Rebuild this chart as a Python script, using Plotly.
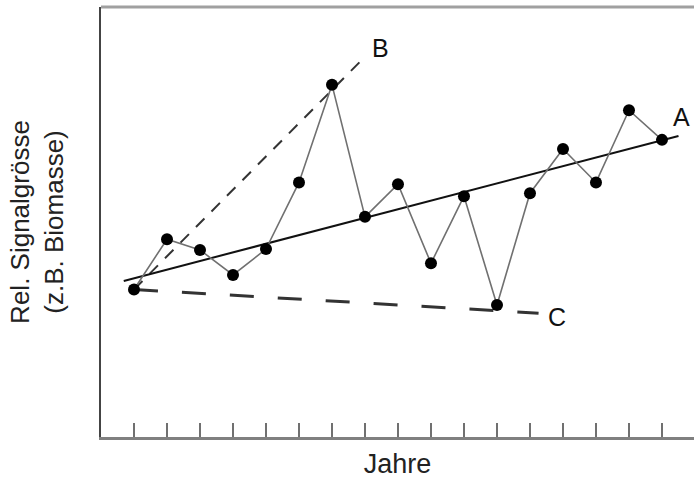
import plotly.graph_objects as go

years = list(range(1, 18))
signal = [34.3, 46.0, 43.5, 37.7, 43.7, 59.2, 81.9, 51.2, 58.8, 40.4, 56.0, 30.7, 56.7, 67.0, 59.2, 76.0, 69.1]

trend_a_x = [0.69, 17.5]
trend_a_y = [36.3, 70.0]
trend_b_x = [1, 7.93]
trend_b_y = [34.3, 87.9]
trend_c_x = [1, 13.26]
trend_c_y = [34.3, 28.8]

labels = ["A", "B", "C"]
label_x = [17.6, 8.48, 13.81]
label_y = [74.4, 90.5, 27.9]

font_family = "Liberation Sans, Arial, sans-serif"

fig = go.Figure()
fig.add_trace(go.Scatter(x=trend_c_x, y=trend_c_y, mode="lines",
                         line=dict(color="#333333", width=3, dash="24px,24px")))
fig.add_trace(go.Scatter(x=trend_b_x, y=trend_b_y, mode="lines",
                         line=dict(color="#333333", width=2, dash="12px,10px")))
fig.add_trace(go.Scatter(x=trend_a_x, y=trend_a_y, mode="lines",
                         line=dict(color="#111111", width=2)))
fig.add_trace(go.Scatter(x=years, y=signal, mode="lines+markers",
                         line=dict(color="#707070", width=1.6),
                         marker=dict(color="#000000", size=12)))

for t, lx, ly in zip(labels, label_x, label_y):
    fig.add_annotation(x=lx, y=ly, text=t, showarrow=False,
                       font=dict(family=font_family, size=25, color="#111111"))

fig.add_shape(type="line", xref="paper", yref="paper", x0=0, x1=1, y0=1, y1=1,
              line=dict(color="#a0a0a0", width=3))

fig.update_layout(
    width=694, height=483,
    margin=dict(l=101, r=0, t=7, b=46),
    paper_bgcolor="white", plot_bgcolor="white",
    showlegend=False,
    font=dict(family=font_family, size=22, color="#222222"),
    xaxis=dict(range=[0, 17.97], showgrid=False, zeroline=False, automargin=False,
               showline=True, linecolor="#808080", linewidth=3,
               ticks="inside", ticklen=14, tickwidth=2, tickcolor="#707070",
               tickvals=years, showticklabels=False,
               title=dict(text="Jahre", standoff=16, font=dict(size=27))),
    yaxis=dict(range=[0, 100], showgrid=False, zeroline=False, automargin=False,
               showline=True, linecolor="#444444", linewidth=2,
               ticks="", showticklabels=False,
               title=dict(text="Rel. Signalgrösse<br>(z.B. Biomasse)", standoff=28,
                          font=dict(size=26))),
)

fig.write_html("out.html", config={"displayModeBar": False},
               post_script="document.body.style.margin='0';document.body.style.overflow='hidden';")
